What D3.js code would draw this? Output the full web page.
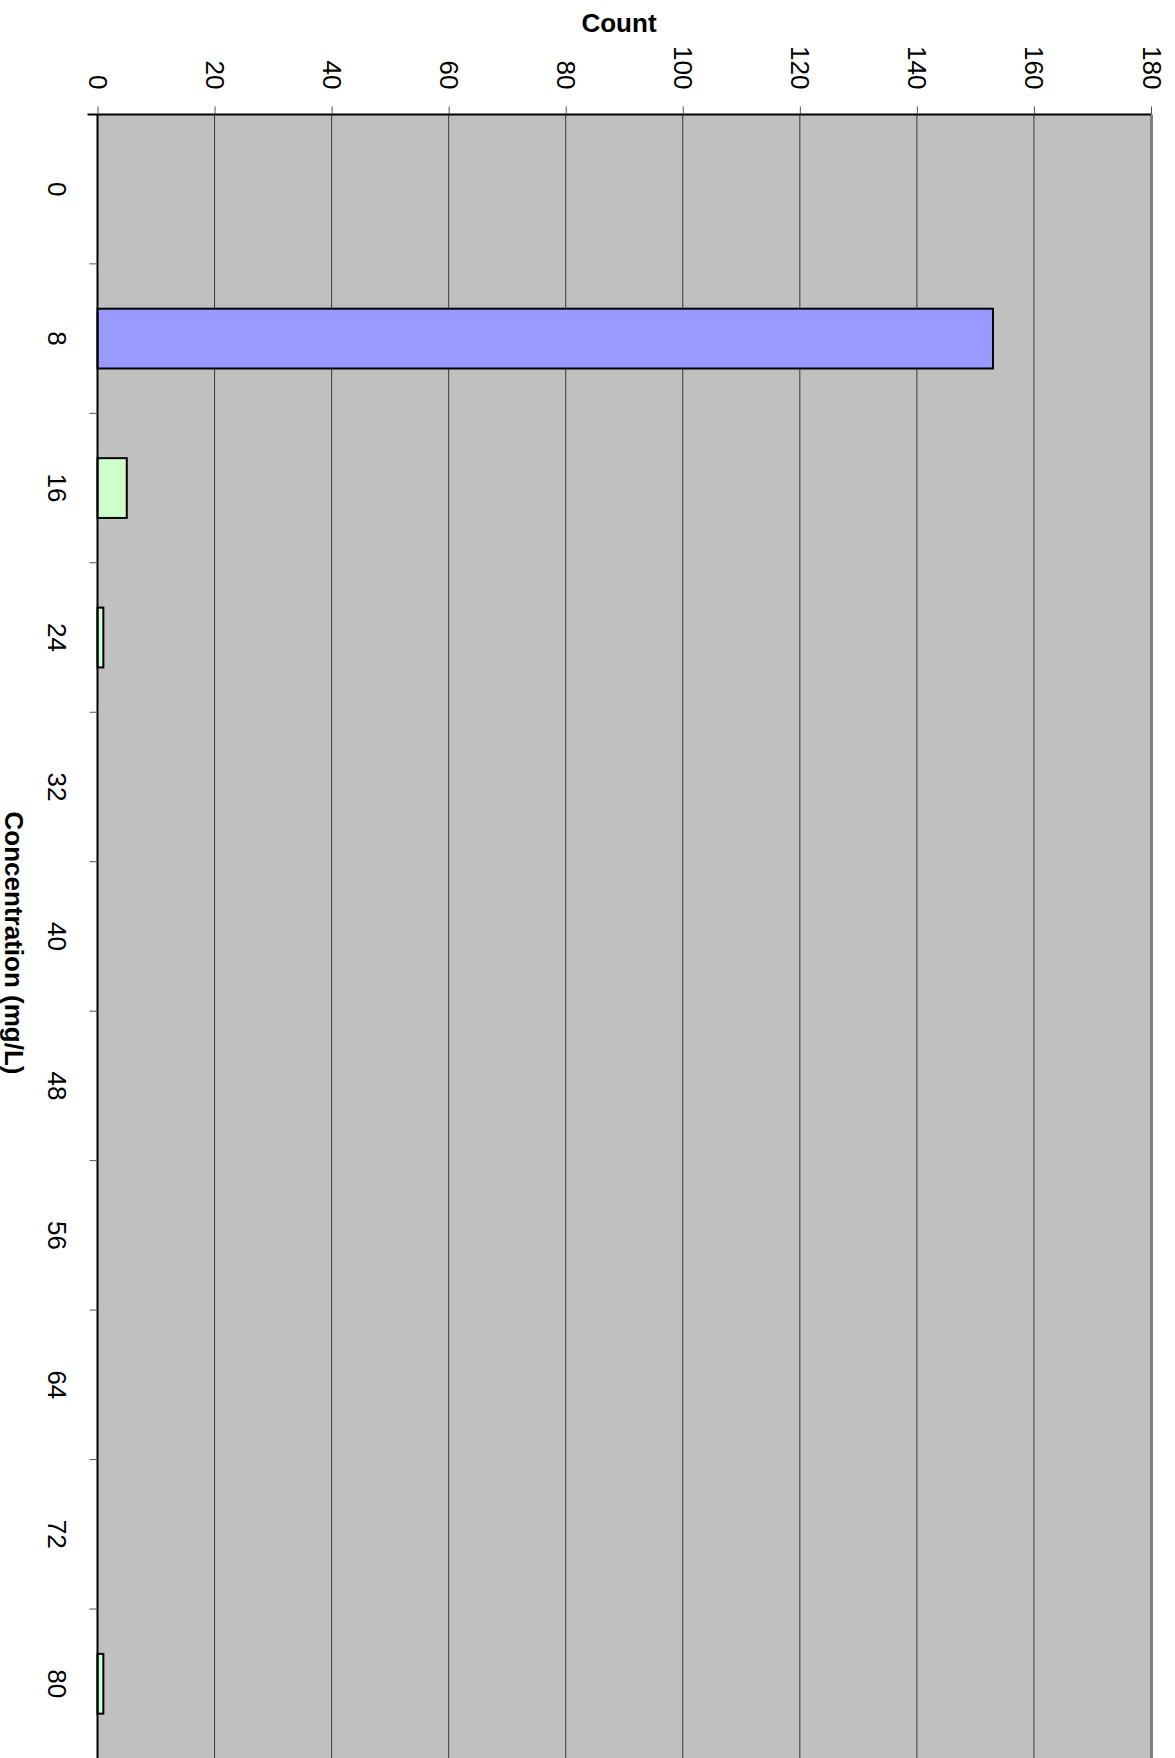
<!DOCTYPE html>
<html>
<head>
<meta charset="utf-8">
<script src="https://cdn.jsdelivr.net/npm/d3@7"></script>
<style>
  html, body { margin: 0; padding: 0; background: #fff; }
  svg { display: block; font-family: "Liberation Sans", Arial, sans-serif; }
</style>
</head>
<body>
<svg id="chart" width="1175" height="1758"></svg>
<script>
const categories = ["0", "8", "16", "24", "32", "40", "48", "56", "64", "72", "80"];
const counts = [0, 153, 5, 1, 0, 0, 0, 0, 0, 0, 1];
const countTicks = [0, 20, 40, 60, 80, 100, 120, 140, 160, 180];
const highlightCategory = "8";

(function () {
const svg = d3.select("#chart");
const pLeft = 97.5, pRight = 1151, pTop = 114.4, pBottom = 1758.5;

const x = d3.scaleLinear().domain([0, 180]).range([pLeft, pRight]);
const y = d3.scaleBand().domain(categories).range([pTop, pBottom])
  .paddingInner(0.6).paddingOuter(0.3);
const step = y.step();

// plot background
svg.append("rect").attr("x", pLeft).attr("y", pTop)
  .attr("width", pRight - pLeft).attr("height", pBottom - pTop)
  .attr("fill", "#C0C0C0");

// gridlines
svg.append("g").selectAll("line").data(countTicks.filter(d => d > 0 && d < 180)).join("line")
  .attr("x1", d => x(d)).attr("x2", d => x(d))
  .attr("y1", pTop).attr("y2", pBottom)
  .attr("stroke", "#3a3a3a").attr("stroke-width", 1);

// bars
const data = categories.map((c, i) => ({ c, v: counts[i] }));
svg.append("g").selectAll("rect").data(data.filter(d => d.v > 0)).join("rect")
  .attr("x", x(0))
  .attr("y", d => y(d.c))
  .attr("width", d => x(d.v) - x(0))
  .attr("height", y.bandwidth())
  .attr("fill", d => d.c === highlightCategory ? "#9999FF" : "#CCFFCC")
  .attr("stroke", "#000").attr("stroke-width", 2);

// right border (gray)
svg.append("line").attr("x1", pRight + 0.5).attr("x2", pRight + 0.5)
  .attr("y1", pTop).attr("y2", pBottom)
  .attr("stroke", "#808080").attr("stroke-width", 3);

// top axis (Count)
const topAxis = d3.axisTop(x).tickValues(countTicks).tickSize(8).tickSizeOuter(0);
const gTop = svg.append("g").attr("transform", `translate(0,${pTop})`).call(topAxis);
gTop.select(".domain").attr("stroke", "#000").attr("stroke-width", 2)
  .attr("d", `M${pLeft - 10},0H${pRight}`);
gTop.selectAll(".tick line").attr("stroke", "#555").attr("stroke-width", 1);
gTop.selectAll(".tick text")
  .attr("font-size", 26).attr("fill", "#000")
  .attr("font-family", "Liberation Sans, Arial, sans-serif")
  .attr("text-anchor", "end")
  .attr("dominant-baseline", "central")
  .attr("x", 0).attr("y", 0).attr("dy", null)
  .attr("transform", "translate(0,-25) rotate(90)");

// left axis (Concentration)
const gLeft = svg.append("g");
gLeft.append("line").attr("x1", pLeft).attr("x2", pLeft)
  .attr("y1", pTop).attr("y2", pBottom)
  .attr("stroke", "#000").attr("stroke-width", 2);
const boundaries = d3.range(categories.length).map(i => pTop + i * step).slice(1);
gLeft.selectAll("line.tk").data(boundaries).join("line").attr("class", "tk")
  .attr("x1", pLeft - 8).attr("x2", pLeft)
  .attr("y1", d => d).attr("y2", d => d)
  .attr("stroke", "#555").attr("stroke-width", 1);
gLeft.selectAll("text").data(categories).join("text")
  .attr("transform", d => `translate(57,${y(d) + y.bandwidth() / 2}) rotate(90)`)
  .attr("text-anchor", "middle").attr("dominant-baseline", "central")
  .attr("font-size", 26).attr("fill", "#000")
  .text(d => d);

// axis titles
svg.append("text").attr("x", 619).attr("y", 31.5)
  .attr("text-anchor", "middle").attr("font-size", 26).attr("font-weight", "bold")
  .text("Count");
svg.append("text")
  .attr("transform", `translate(14,943) rotate(90)`)
  .attr("text-anchor", "middle").attr("dominant-baseline", "central")
  .attr("font-size", 26).attr("font-weight", "bold")
  .text("Concentration (mg/L)");
})();
</script>
</body>
</html>
